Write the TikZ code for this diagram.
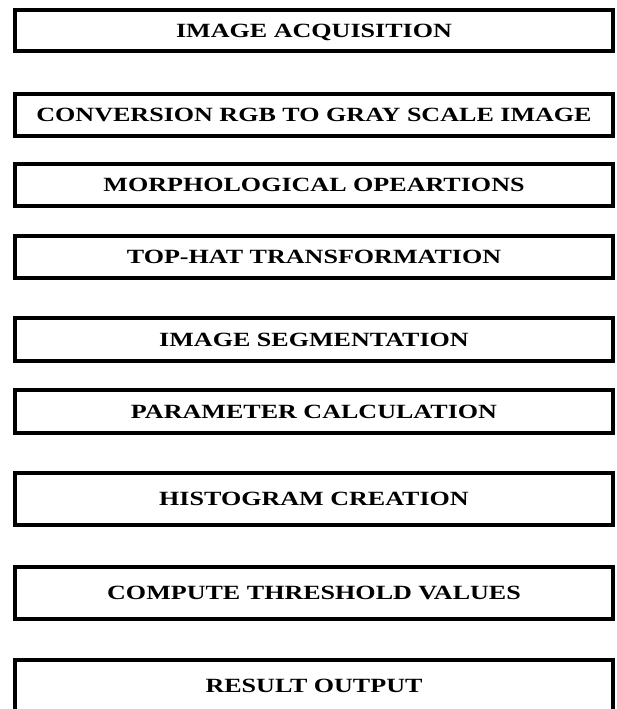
\documentclass[tikz,border=0pt]{standalone}
\usepackage{fontspec}
\newfontfamily\stagefont{Liberation Serif}[FakeStretch=1.29]
\begin{document}
\begin{tikzpicture}[x=1pt,y=-1pt,
  stagebox/.style={draw=black, line width=3.3pt, rectangle, inner sep=0pt,
    minimum width=598pt, text=black, text height=13.4pt, text depth=0pt,
    font=\stagefont\bfseries\fontsize{20.2}{24}\selectfont}]
  \useasboundingbox (0,0) rectangle (616,709);
  \clip (0,0) rectangle (616,709);
  \fill[white] (0,0) rectangle (616,709);
  \node[stagebox, minimum height=41pt] (s1) at (314,30.5) {IMAGE ACQUISITION};
  \node[stagebox, minimum height=42pt] (s2) at (314,115) {CONVERSION RGB TO GRAY SCALE IMAGE};
  \node[stagebox, minimum height=42pt] (s3) at (314,185) {MORPHOLOGICAL OPEARTIONS};
  \node[stagebox, minimum height=42pt] (s4) at (314,257) {TOP-HAT TRANSFORMATION};
  \node[stagebox, minimum height=43pt] (s5) at (314,339.5) {IMAGE SEGMENTATION};
  \node[stagebox, minimum height=43pt] (s6) at (314,411.5) {PARAMETER CALCULATION};
  \node[stagebox, minimum height=52pt] (s7) at (314,499) {HISTOGRAM CREATION};
  \node[stagebox, minimum height=52pt] (s8) at (314,593) {COMPUTE THRESHOLD VALUES};
  \node[stagebox, minimum height=52pt] (s9) at (314,686) {RESULT OUTPUT};
\end{tikzpicture}
\end{document}
